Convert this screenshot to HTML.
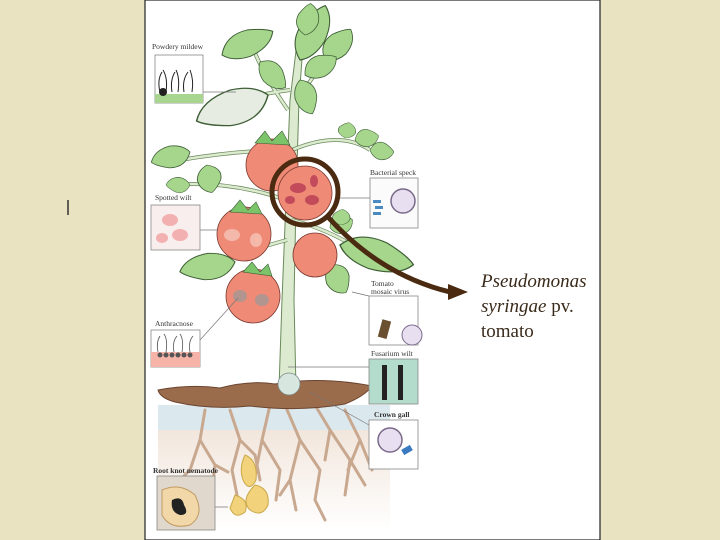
<!DOCTYPE html>
<html><head><meta charset="utf-8"><style>
html,body{margin:0;padding:0;}
body{width:720px;height:540px;overflow:hidden;background:#e9e3c2;position:relative;font-family:"Liberation Serif",serif;}
svg{position:absolute;left:0;top:0;}
</style></head><body>
<svg width="720" height="540" viewBox="0 0 720 540" xmlns="http://www.w3.org/2000/svg" font-family="Liberation Serif, serif">
<defs>
<linearGradient id="soilbg" x1="0" y1="0" x2="0" y2="1">
<stop offset="0" stop-color="#f2e6dc"/><stop offset="1" stop-color="#ffffff"/>
</linearGradient>
<path id="lf" d="M0 0 Q8 -14 24 -10 Q36 -5 40 0 Q34 11 18 11 Q5 9 0 0Z"/>
</defs>
<rect x="0" y="0" width="720" height="540" fill="#e9e3c2"/>
<line x1="68" y1="200" x2="68" y2="215" stroke="#333" stroke-width="1.5"/>
<rect x="145" y="0" width="455" height="540" fill="#ffffff" stroke="#222" stroke-width="1.2"/>
<rect x="158" y="405" width="232" height="25" fill="#dbe8ee"/>
<rect x="158" y="430" width="232" height="100" fill="url(#soilbg)"/>
<g stroke="#c9a890" stroke-width="3" fill="none" stroke-linecap="round" stroke-linejoin="round">
<path d="M205 410 L200 440 L190 470 M200 440 L215 465 L212 490 M230 410 L240 440 L232 470 L238 500 M240 440 L255 455 L260 480 M190 470 L180 480 M215 465 L228 472"/>
<path d="M270 405 L262 440 L255 475 M262 440 L280 470 L276 500 M285 405 L300 440 L290 480 L296 510 M300 440 L320 470 L315 500 M290 480 L280 495"/>
<path d="M315 405 L330 430 L350 460 L345 495 M330 430 L325 460 M345 410 L360 440 L372 470 M360 440 L348 470 M350 460 L365 485 M315 500 L325 520"/>
</g>
<g fill="#f2d27a" stroke="#c9a84a" stroke-width="1">
<path d="M245 455 Q258 460 256 480 Q250 492 244 482 Q238 470 245 455Z"/>
<path d="M255 485 Q270 488 268 505 Q262 518 250 510 Q240 500 255 485Z"/>
<path d="M235 495 Q250 500 245 512 Q235 520 230 508Z"/>
</g>
<path d="M158 390 Q190 384 220 388 Q250 380 275 384 Q320 376 372 386 Q365 396 345 404 Q300 412 250 406 Q210 410 175 402 Q160 398 158 390Z" fill="#9b6c4c" stroke="#6b4530" stroke-width="1"/>
<path d="M279 388 L282 300 L286 200 L290 100 L300 18 L305 18 L299 100 L296 200 L294 300 L296 388Z" fill="#dcebd0" stroke="#6a8a5a" stroke-width="1"/>
<g stroke="#6a8a5a" stroke-width="4" fill="none">
<path d="M288 110 Q260 70 250 40"/><path d="M290 150 Q240 150 180 160"/><path d="M292 150 Q340 130 370 150"/>
<path d="M286 200 Q230 180 170 185"/><path d="M287 240 Q250 250 190 270"/><path d="M292 220 Q330 230 360 250"/>
<path d="M290 90 Q250 95 210 110"/><path d="M296 100 Q320 70 335 40"/>
</g>
<g stroke="#dcebd0" stroke-width="2.5" fill="none">
<path d="M288 110 Q260 70 250 40"/><path d="M290 150 Q240 150 180 160"/><path d="M292 150 Q340 130 370 150"/>
<path d="M286 200 Q230 180 170 185"/><path d="M287 240 Q250 250 190 270"/><path d="M292 220 Q330 230 360 250"/>
<path d="M290 90 Q250 95 210 110"/><path d="M296 100 Q320 70 335 40"/>
</g>
<g fill="#a5d68c" stroke="#3e5e36" stroke-width="0.8">
<use href="#lf" transform="translate(222 55) rotate(-25) scale(1.4 1.2)"/>
<use href="#lf" transform="translate(300 60) rotate(-65) scale(1.5 1.3)"/>
<use href="#lf" transform="translate(325 60) rotate(-50) scale(1.0 1.1)"/>
<use href="#lf" transform="translate(305 35) rotate(-80) scale(0.8 1)"/>
<use href="#lf" transform="translate(260 62) rotate(45) scale(0.9 1)"/>
<use href="#lf" transform="translate(300 80) rotate(70) scale(0.9 1)"/>
<use href="#lf" transform="translate(305 75) rotate(-30) scale(0.9 1)"/>
<use href="#lf" fill="#e6ece2" transform="translate(268 95) rotate(160) scale(1.9 1.6)"/>
<use href="#lf" transform="translate(190 152) rotate(165) scale(1.0 1)"/>
<use href="#lf" transform="translate(207 165) rotate(80) scale(0.7 1.1)"/>
<use href="#lf" transform="translate(345 138) rotate(-75) scale(0.4 0.8)"/>
<use href="#lf" transform="translate(355 140) rotate(-10) scale(0.6 0.8)"/>
<use href="#lf" transform="translate(370 150) rotate(5) scale(0.6 0.8)"/>
<use href="#lf" transform="translate(190 185) rotate(180) scale(0.6 0.7)"/>
<use href="#lf" transform="translate(235 262) rotate(170) scale(1.4 1.2)"/>
<use href="#lf" transform="translate(330 228) rotate(-20) scale(0.6 0.9)"/>
<use href="#lf" transform="translate(340 245) rotate(15) scale(1.9 1.4)"/>
<use href="#lf" transform="translate(330 265) rotate(60) scale(0.8 1.1)"/>
<use href="#lf" transform="translate(340 225) rotate(-80) scale(0.4 0.8)"/>
</g>
<g fill="#ee8a76" stroke="#7a3a30" stroke-width="0.8">
<circle cx="272" cy="165" r="26"/>
<circle cx="244" cy="234" r="27"/>
<circle cx="315" cy="255" r="22"/>
<circle cx="253" cy="296" r="27"/>
<circle cx="305" cy="193" r="27"/>
</g>
<g fill="#c24a5a"><ellipse cx="298" cy="188" rx="8" ry="5"/><ellipse cx="312" cy="200" rx="7" ry="5"/><ellipse cx="290" cy="200" rx="5" ry="4"/><ellipse cx="314" cy="181" rx="4" ry="6"/></g>
<g fill="#9a9a9a" opacity="0.7"><ellipse cx="240" cy="296" rx="7" ry="6"/><ellipse cx="262" cy="300" rx="7" ry="6"/></g>
<g fill="#f6c4b8" opacity="0.8"><ellipse cx="232" cy="235" rx="8" ry="6"/><ellipse cx="256" cy="240" rx="6" ry="7"/></g>
<g fill="#7cc46a" stroke="#3e5e36" stroke-width="0.6">
<path d="M255 143 L265 131 L272 141 L282 131 L290 145Z"/><path d="M230 212 L240 200 L248 210 L256 202 L262 214Z"/><path d="M243 272 L252 262 L260 272 L268 264 L272 276Z"/>
</g>
<circle cx="289" cy="384" r="11" fill="#d8e6e0" stroke="#7a8a86" stroke-width="0.8"/>
<g stroke="#777" stroke-width="0.7">
<line x1="203" y1="92" x2="236" y2="92"/><line x1="195" y1="230" x2="218" y2="230"/>
<line x1="338" y1="198" x2="370" y2="198"/><line x1="352" y1="292" x2="369" y2="296"/>
<line x1="200" y1="340" x2="238" y2="298"/><line x1="288" y1="367" x2="369" y2="367"/>
<line x1="310" y1="392" x2="369" y2="425"/><line x1="196" y1="507" x2="228" y2="507"/>
</g>
<g stroke="#888" stroke-width="0.8">
<rect x="155" y="55" width="48" height="48" fill="#fff"/>
<rect x="151" y="205" width="49" height="45" fill="#f8eeee"/>
<rect x="370" y="178" width="48" height="50" fill="#fbfbfb"/>
<rect x="369" y="296" width="49" height="49" fill="#fff"/>
<rect x="369" y="359" width="49" height="45" fill="#b4dccc"/>
<rect x="369" y="420" width="49" height="49" fill="#fff"/>
<rect x="151" y="330" width="49" height="37" fill="#fff"/>
<rect x="157" y="476" width="58" height="54" fill="#e0d8cc"/>
</g>
<rect x="155" y="94" width="48" height="9" fill="#a8d690"/>
<circle cx="163" cy="92" r="4" fill="#222"/>
<g stroke="#222" stroke-width="1" fill="none"><path d="M160 92 Q157 80 162 72 M166 92 Q168 78 163 70 M172 92 Q170 80 175 72 M178 92 Q180 78 176 70 M184 92 Q182 80 188 72 M192 92 Q194 80 190 70"/></g>
<g fill="#f2b0b0"><ellipse cx="170" cy="220" rx="8" ry="6"/><ellipse cx="180" cy="235" rx="8" ry="6"/><ellipse cx="162" cy="238" rx="6" ry="5"/></g>
<circle cx="403" cy="201" r="12" fill="#e8e0f0" stroke="#7a6a8a" stroke-width="1.5"/>
<g fill="#4a8ac0"><rect x="373" y="200" width="8" height="3"/><rect x="375" y="206" width="8" height="3"/><rect x="373" y="212" width="8" height="3"/></g>
<rect x="380" y="320" width="9" height="18" fill="#6a5030" transform="rotate(15 384 329)"/>
<circle cx="412" cy="335" r="10" fill="#e8e0f0" stroke="#7a6a8a"/>
<g fill="#222"><rect x="382" y="365" width="5" height="35"/><rect x="398" y="365" width="5" height="35"/></g>
<circle cx="390" cy="440" r="12" fill="#e8e0f0" stroke="#7a6a8a" stroke-width="1.5"/>
<rect x="402" y="447" width="10" height="6" fill="#3a7ac0" transform="rotate(-30 407 450)"/>
<rect x="151" y="352" width="49" height="15" fill="#f6b4a8"/>
<g fill="#555"><circle cx="160" cy="355" r="2.5"/><circle cx="166" cy="355" r="2.5"/><circle cx="172" cy="355" r="2.5"/><circle cx="178" cy="355" r="2.5"/><circle cx="184" cy="355" r="2.5"/><circle cx="190" cy="355" r="2.5"/></g>
<g stroke="#555" stroke-width="0.8" fill="none"><path d="M158 352 Q156 342 160 336 M166 352 Q168 340 164 334 M174 352 Q172 342 177 336 M182 352 Q184 340 180 334 M190 352 Q188 342 193 336"/></g>
<path d="M162 490 Q180 482 195 495 Q205 515 190 525 Q170 530 162 515Z" fill="#f2d8a8" stroke="#c09a60"/>
<path d="M172 500 Q182 495 184 505 Q190 515 180 515 Q170 512 172 500Z" fill="#222"/>
<g font-size="7.5" fill="#333">
<text x="152" y="49">Powdery mildew</text>
<text x="155" y="200">Spotted wilt</text>
<text x="370" y="175">Bacterial speck</text>
<text x="371" y="286">Tomato</text><text x="371" y="294">mosaic virus</text>
<text x="371" y="356">Fusarium wilt</text>
<text x="374" y="417" font-weight="bold">Crown gall</text>
<text x="155" y="326">Anthracnose</text>
<text x="153" y="473" font-weight="bold">Root knot nematode</text>
</g>
<circle cx="305" cy="192" r="33" fill="none" stroke="#4a2a10" stroke-width="5"/>
<path d="M328 217 Q380 275 450 292" fill="none" stroke="#4a2a10" stroke-width="5"/>
<polygon points="448,284 468,292 448,300" fill="#4a2a10"/>
<g font-size="19" fill="#3a2a1a">
<text x="481" y="287" font-style="italic">Pseudomonas</text>
<text x="481" y="312"><tspan font-style="italic">syringae</tspan> pv.</text>
<text x="481" y="337">tomato</text>
</g>
</svg>
</body></html>
